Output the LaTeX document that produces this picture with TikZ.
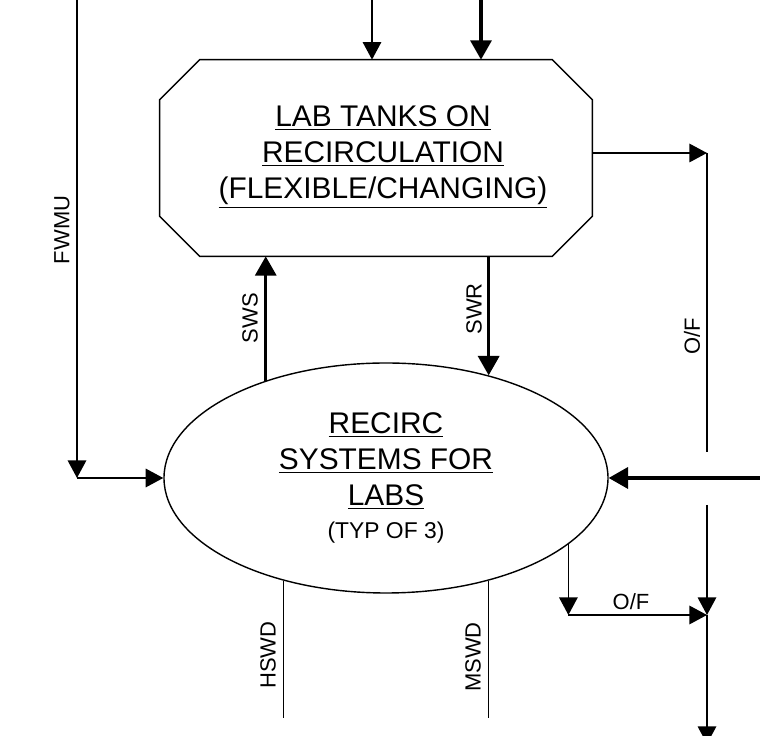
\documentclass[tikz,border=0pt]{standalone}
\usepackage{fontspec}
\setmainfont{Liberation Sans}
\usetikzlibrary{arrows.meta,shapes.geometric}

\tikzset{
    flow/.style={line width=0.9pt, -{Triangle[length=10pt,width=10.5pt]}},
    bigflow/.style={line width=1.8pt, -{Triangle[length=11pt,width=12pt]}},
    pipe/.style={line width=0.9pt},
    tag/.style={font=\fontsize{12.5}{15}\selectfont, inner sep=0pt},
    tagv/.style={tag, rotate=90},
    title/.style={align=center, font=\fontsize{17}{20.5}\selectfont, inner sep=0pt},
}

\begin{document}
\begin{tikzpicture}
    \useasboundingbox (0,0) rectangle (15.2,14.72);

    % lab tanks
    \node[minimum width=8.64cm, minimum height=3.92cm, inner sep=0pt] (tanks) at (7.52,11.56) {};
    \draw[line width=0.8pt] ([xshift=0.8cm]tanks.north west) -- ([xshift=-0.8cm]tanks.north east)
        -- ([yshift=-0.8cm]tanks.north east) -- ([yshift=0.8cm]tanks.south east)
        -- ([xshift=-0.8cm]tanks.south east) -- ([xshift=0.8cm]tanks.south west)
        -- ([yshift=0.8cm]tanks.south west) -- ([yshift=-0.8cm]tanks.north west) -- cycle;
    \node[title] (tankstext) at (7.66,11.58) {\underline{LAB TANKS ON}\\ \underline{RECIRCULATION}\\ \underline{(FLEXIBLE/CHANGING)}};

    % recirc systems
    \node[ellipse, draw, line width=0.8pt, minimum width=8.88cm, minimum height=4.6cm, title] (recirc) at (7.72,5.16)
        {\underline{RECIRC}\\ \underline{SYSTEMS FOR}\\ \underline{LABS}\\[-2pt] {\fontsize{13}{15}\selectfont (TYP OF 3)}};

    % feeds from above
    \coordinate (lab1) at (7.44,14.9);
    \coordinate (lab2) at (9.62,14.9);
    \draw[flow] (lab1) -- (lab1 |- tanks.north);
    \draw[bigflow] (lab2) -- (lab2 |- tanks.north);

    % fresh water make-up
    \coordinate (fwmu) at (1.54,14.9);
    \coordinate (fwmubend) at (1.54,5.16);
    \draw[flow] (fwmu) -- (fwmubend);
    \draw[flow] (fwmubend) -- (recirc.west);
    \node[tagv] (fwmutag) at (1.24,10.12) {FWMU};

    % supply / return
    \draw[bigflow] (recirc.141) -- (recirc.141 |- tanks.south);
    \draw[bigflow] (recirc.45 |- tanks.south) -- (recirc.45);
    \node[tagv] (swstag) at (5.0,8.36) {SWS};
    \node[tagv] (swrtag) at (9.48,8.54) {SWR};

    % drains
    \coordinate (drain) at (0,0.36);
    \draw[pipe] (recirc.225) -- (recirc.225 |- drain);
    \draw[pipe] (recirc.315) -- (recirc.315 |- drain);
    \node[tagv] (hswdtag) at (5.36,1.62) {HSWD};
    \node[tagv] (mswdtag) at (9.46,1.58) {MSWD};

    % overflow from tanks
    \coordinate (of1) at (14.14,11.66);
    \coordinate (of1end) at (14.14,5.68);
    \draw[flow] ([yshift=0.1cm]tanks.east) -- (of1);
    \draw[pipe] (of1) -- (of1end);
    \node[tagv] (of1tag) at (13.84,8.0) {O/F};

    % supply from right
    \coordinate (hwin) at (15.3,5.16);
    \draw[bigflow] (hwin) -- (recirc.east);

    % overflow from recirc
    \coordinate (of2) at (14.14,4.62);
    \coordinate (ofjoin) at (14.14,2.42);
    \coordinate (ofout) at (14.14,-0.16);
    \coordinate (ofbend) at (recirc.340 |- ofjoin);
    \draw[flow] (of2) -- (ofjoin);
    \draw[flow] (ofjoin) -- (ofout);
    \draw[flow] (recirc.340) -- (ofbend);
    \draw[flow] (ofbend) -- (ofjoin);
    \node[tag] (of2tag) at (12.62,2.68) {O/F};

\end{tikzpicture}
\end{document}
